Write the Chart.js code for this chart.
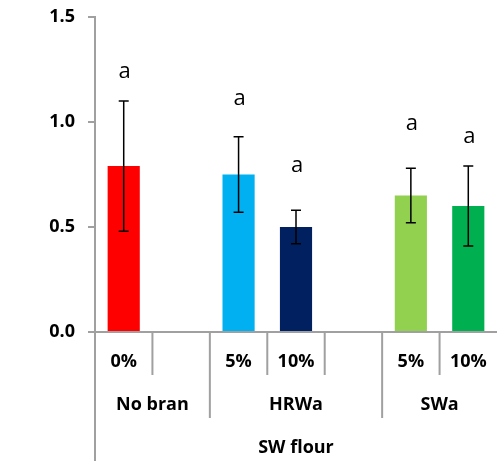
<!DOCTYPE html>
<html>
<head>
<meta charset="utf-8">
<script src="https://cdn.jsdelivr.net/npm/chart.js@4"></script>
<style>
  body { margin: 0; background: #fff; }
  #wrap { width: 497px; height: 461px; }
</style>
</head>
<body>
<div id="wrap"><canvas id="chart"></canvas></div>
<script>
// data
const categories = ['0%', '', '5%', '10%', '', '5%', '10%'];
const means = [0.79, null, 0.75, 0.50, null, 0.65, 0.60];
const errors = [0.31, null, 0.18, 0.08, null, 0.13, 0.19];
const letters = ['a', '', 'a', 'a', '', 'a', 'a'];
const letterLevels = [1.24, null, 1.11, 0.79, null, 0.99, 0.93];
const groupLabels = ['No bran', 'HRWa', 'SWa'];
const groupStart = [0, 2, 5];
const groupEnd = [1, 4, 6];
const outerLabel = 'SW flour';
const yTicks = [0, 0.5, 1.0, 1.5];

const barColors = ['#FF0000', '#FF0000', '#00B0F0', '#002060', '#00B050', '#92D050', '#00B050'];
const axisGray = '#A0A0A0';
const boldFont = 'bold 18px "Open Sans"';

// error bars + letters above the bars
const extrasPlugin = {
  id: 'extras',
  afterDatasetsDraw(chart) {
    const ctx = chart.ctx;
    const x = chart.scales.x;
    const y = chart.scales.y;
    ctx.save();
    for (let i = 0; i < categories.length; i++) {
      if (means[i] == null) continue;
      const cx = x.getPixelForValue(i);
      const top = y.getPixelForValue(means[i] + errors[i]);
      const bot = y.getPixelForValue(means[i] - errors[i]);
      ctx.strokeStyle = '#000';
      ctx.lineWidth = 1.5;
      ctx.beginPath();
      ctx.moveTo(cx, top); ctx.lineTo(cx, bot);
      ctx.moveTo(cx - 5, top); ctx.lineTo(cx + 5, top);
      ctx.moveTo(cx - 5, bot); ctx.lineTo(cx + 5, bot);
      ctx.stroke();

      ctx.fillStyle = '#000';
      ctx.font = '22px "Open Sans"';
      ctx.textAlign = 'center';
      ctx.textBaseline = 'middle';
      ctx.fillText(letters[i], cx + 1, y.getPixelForValue(letterLevels[i]));
    }
    ctx.restore();
  },
  // grouped category labels under the x axis
  afterDraw(chart) {
    const ctx = chart.ctx;
    const x = chart.scales.x;
    const area = chart.chartArea;
    const slot = x.getPixelForValue(1) - x.getPixelForValue(0);
    const edge = i => x.getPixelForValue(i) - slot / 2;
    const rowH = (chart.height - area.bottom) / 3;
    ctx.save();
    ctx.strokeStyle = axisGray;
    ctx.lineWidth = 2;
    ctx.beginPath();
    // y axis runs on to the bottom
    ctx.moveTo(area.left, area.bottom);
    ctx.lineTo(area.left, chart.height);
    for (let i = 1; i < categories.length; i++) {
      const long = groupStart.includes(i);
      ctx.moveTo(edge(i), area.bottom);
      ctx.lineTo(edge(i), area.bottom + rowH * (long ? 2 : 1));
    }
    ctx.stroke();

    ctx.fillStyle = '#000';
    ctx.font = boldFont;
    ctx.textAlign = 'center';
    ctx.textBaseline = 'middle';
    categories.forEach((c, i) => {
      ctx.fillText(c, x.getPixelForValue(i), area.bottom + 30);
    });
    groupLabels.forEach((g, k) => {
      const mid = (edge(groupStart[k]) + edge(groupEnd[k] + 1)) / 2;
      ctx.fillText(g, mid, area.bottom + 73);
    });
    const allMid = (edge(0) + edge(categories.length)) / 2;
    ctx.fillText(outerLabel, allMid, area.bottom + 116);
    ctx.restore();
  }
};

new Chart(document.getElementById('chart'), {
  type: 'bar',
  data: {
    labels: categories,
    datasets: [{
      data: means,
      backgroundColor: barColors,
      barPercentage: 0.56,
      categoryPercentage: 1
    }]
  },
  options: {
    responsive: true,
    maintainAspectRatio: false,
    animation: false,
    layout: { padding: { top: 17, right: 0, left: 0, bottom: 0 } },
    plugins: { legend: { display: false }, tooltip: { enabled: false } },
    scales: {
      x: {
        grid: { display: false },
        border: { color: axisGray, width: 2 },
        ticks: { display: false },
        afterFit: s => { s.height = 129; }
      },
      y: {
        min: 0,
        max: 1.5,
        afterBuildTicks: s => { s.ticks = yTicks.map(v => ({ value: v })); },
        ticks: {
          callback: v => v.toFixed(1),
          color: '#000',
          font: { family: 'Open Sans', weight: 'bold', size: 18 },
          padding: 13
        },
        grid: { drawOnChartArea: false, tickLength: 7, color: axisGray, lineWidth: 2 },
        border: { color: axisGray, width: 2 },
        afterFit: s => {
          s.width = 95;
          s.paddingTop = 0;
          s.paddingBottom = 0;
        }
      }
    }
  },
  plugins: [extrasPlugin]
});
</script>
</body>
</html>
